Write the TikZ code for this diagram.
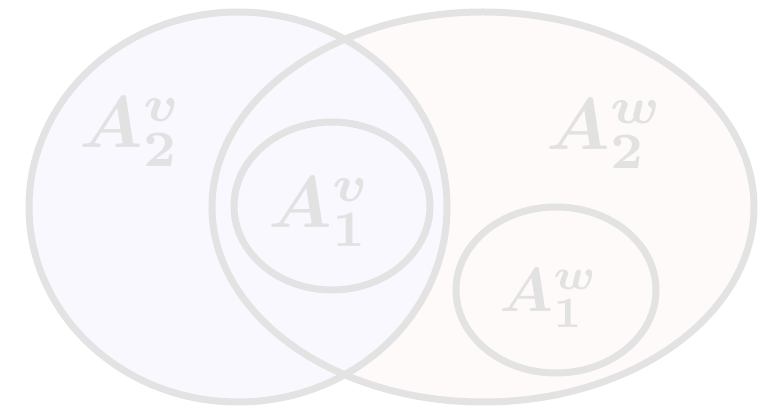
\documentclass[tikz,border=0pt]{standalone}
\usepackage{bm}
\usetikzlibrary{shapes.geometric,backgrounds,positioning}
\definecolor{ring}{HTML}{E3E3E3}
\definecolor{vside}{HTML}{F9F8FE}
\definecolor{wside}{HTML}{FEFAF9}
\definecolor{ink}{HTML}{E2E2E2}
\newcommand{\setname}[3][7.3]{\scalebox{#1}{$\bm{A^{#2}_{#3}}$}}
\tikzset{
  setshape/.style={ellipse,inner sep=0pt},
  setring/.style={setshape,draw=ring,line width=7pt},
  vpatch/.style={setshape,fill=vside},
  wpatch/.style={setshape,fill=wside},
  setlabel/.style={text=ink,anchor=base,inner sep=0pt},
}

\begin{document}
\begin{tikzpicture}[x=1pt,y=-1pt]
\useasboundingbox (0,0) rectangle (774,411);

% fills underneath
\begin{scope}[on background layer]
\node[wpatch,minimum width=542pt,minimum height=390pt] (wbg) at (483,207) {};
\node[vpatch,minimum width=418pt,minimum height=390pt] (vbg) at (238,207) {};
\end{scope}

% the four sets
\node[setring,minimum width=418pt,minimum height=390pt] (V2) at (238,207) {};
\node[setring,minimum width=542pt,minimum height=390pt] (W2) at (483,207) {};
\node[setring,minimum width=196pt,minimum height=168pt] (V1) at (332,206) {};
\node[setring,minimum width=200pt,minimum height=166pt] (W1) at (556,290) {};

% labels
\node[setlabel] (lv2) at (131,148) {\setname{v}{2}};
\node[setlabel] (lv1) at (320,228) {\setname{v}{1}};
\node[setlabel] (lw1) at (549,312) {\setname[6.2]{w}{1}};
\node[setlabel] (lw2) at (605,150) {\setname{w}{2}};

\end{tikzpicture}
\end{document}
